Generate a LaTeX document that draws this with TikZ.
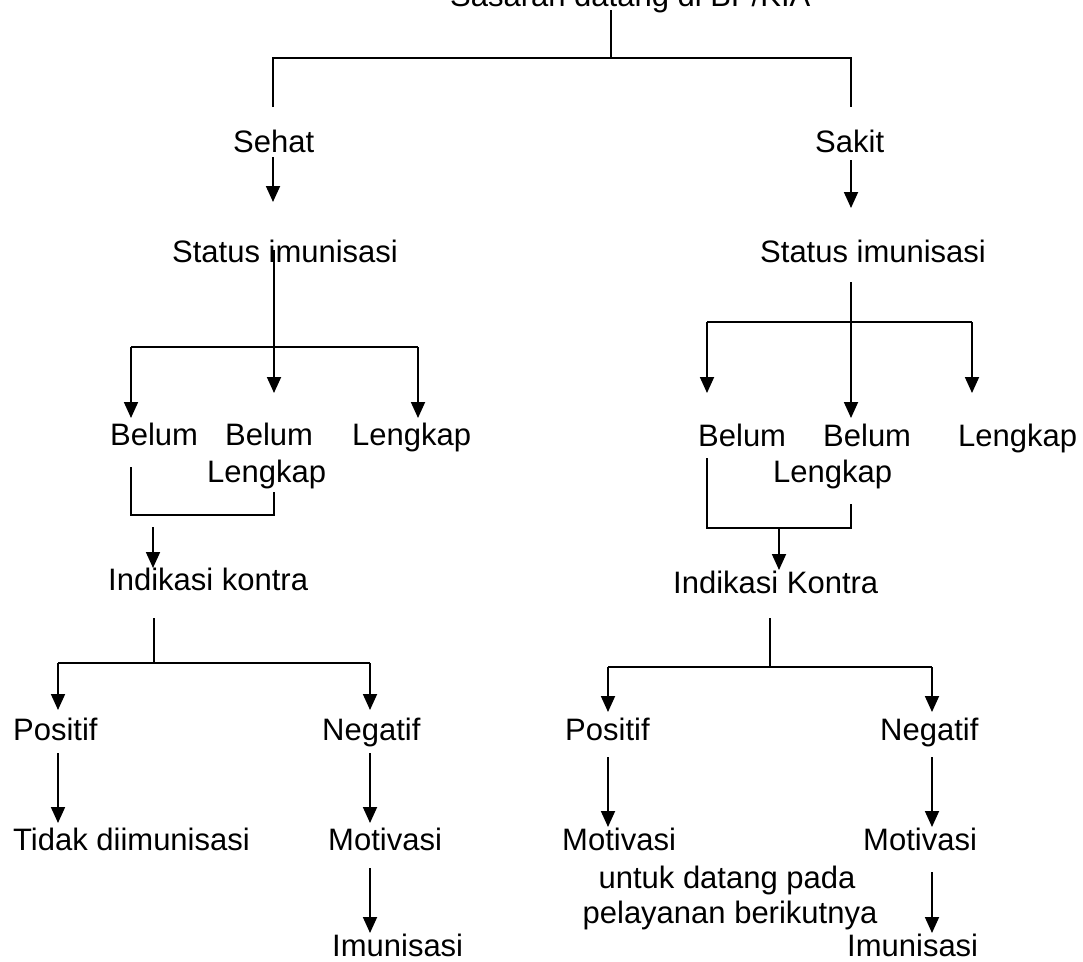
\documentclass[tikz,border=0pt]{standalone}
\usepackage{fontspec}
\setmainfont{Liberation Sans}
\usetikzlibrary{arrows.meta}
\begin{document}
\begin{tikzpicture}[x=1pt,y=-1pt,
  lbl/.style={anchor=base west, inner sep=0pt, font=\fontsize{31}{37}\selectfont},
  clbl/.style={anchor=base, inner sep=0pt, font=\fontsize{31}{37}\selectfont},
  ln/.style={line width=1.8pt},
  arr/.style={ln, -{Triangle[length=16pt,width=14pt]}}]
\useasboundingbox (0,0) rectangle (1083,961);
\begin{scope}
\clip (0,0) rectangle (1083,961);
% ---------- texts ----------
\node[lbl] (top) at (450,6) {Sasaran datang di BP/KIA};
\node[lbl] (sehat) at (233,152) {Sehat};
\node[lbl] (sakit) at (815,152) {Sakit};
\node[lbl] (statL) at (172,262) {Status imunisasi};
\node[lbl] (statR) at (760,262) {Status imunisasi};
% left branch
\node[lbl] (belL) at (110,445) {Belum};
\node[lbl] (blL1) at (225,445) {Belum};
\node[lbl] (blL2) at (207,482) {Lengkap};
\node[lbl] (lkL) at (352,445) {Lengkap};
\node[lbl] (ikL) at (108,590) {Indikasi kontra};
\node[lbl] (posL) at (13,740) {Positif};
\node[lbl] (negL) at (322,740) {Negatif};
\node[lbl] (tidak) at (13,850) {Tidak diimunisasi};
\node[lbl] (motL) at (328,850) {Motivasi};
\node[lbl] (imL) at (332,956) {Imunisasi};
% right branch
\node[lbl] (belR) at (698,446) {Belum};
\node[lbl] (blR1) at (823,446) {Belum};
\node[lbl] (blR2) at (773,482) {Lengkap};
\node[lbl] (lkR) at (958,446) {Lengkap};
\node[lbl] (ikR) at (673,593) {Indikasi Kontra};
\node[lbl] (posR) at (565,740) {Positif};
\node[lbl] (negR) at (880,740) {Negatif};
\node[lbl] (motR1) at (562,850) {Motivasi};
\node[clbl] (untuk1) at (727,888) {untuk datang pada};
\node[clbl] (untuk2) at (730,923) {pelayanan berikutnya};
\node[lbl] (motR2) at (863,850) {Motivasi};
\node[lbl] (imR) at (847,956) {Imunisasi};
% ---------- coordinates ----------
\coordinate (t0) at (611,10);  \coordinate (t1) at (611,58);
\coordinate (tL) at (273,58);  \coordinate (tR) at (851,58);
\coordinate (tLe) at (273,107); \coordinate (tRe) at (851,107);
\coordinate (sh0) at (273,157); \coordinate (sh1) at (273,202);
\coordinate (sk0) at (851,160); \coordinate (sk1) at (851,208);
% left status
\coordinate (sL0) at (274,250); \coordinate (sL1) at (274,393);
\coordinate (hL1) at (131,347); \coordinate (hL2) at (418,347);
\coordinate (aL1) at (131,418); \coordinate (aL2) at (418,418);
\coordinate (bL1) at (131,467); \coordinate (bL2) at (131,515);
\coordinate (bL3) at (274,515); \coordinate (bL4) at (274,492);
\coordinate (kL0) at (153,527); \coordinate (kL1) at (153,568);
\coordinate (iL0) at (154,618); \coordinate (iL1) at (154,663);
\coordinate (pL1) at (58,663);  \coordinate (pL2) at (370,663);
\coordinate (pL1e) at (58,710); \coordinate (pL2e) at (370,710);
\coordinate (qL0) at (58,753);  \coordinate (qL1) at (58,823);
\coordinate (rL0) at (370,753); \coordinate (rL1) at (370,823);
\coordinate (mL0) at (370,868); \coordinate (mL1) at (370,933);
% right status
\coordinate (sR0) at (851,282); \coordinate (sR1) at (851,418);
\coordinate (hR1) at (707,322); \coordinate (hR2) at (972,322);
\coordinate (aR1) at (707,393); \coordinate (aR2) at (972,393);
\coordinate (bR1) at (707,458); \coordinate (bR2) at (707,528);
\coordinate (bR3) at (851,528); \coordinate (bR4) at (851,504);
\coordinate (kR0) at (779,528); \coordinate (kR1) at (779,570);
\coordinate (iR0) at (770,618); \coordinate (iR1) at (770,667);
\coordinate (pR1) at (608,667); \coordinate (pR2) at (932,667);
\coordinate (pR1e) at (608,712); \coordinate (pR2e) at (932,712);
\coordinate (qR0) at (608,757); \coordinate (qR1) at (608,827);
\coordinate (rR0) at (932,757); \coordinate (rR1) at (932,827);
\coordinate (mR0) at (932,872); \coordinate (mR1) at (932,933);
% ---------- connectors ----------
\draw[ln] (t0) -- (t1);
\draw[ln] (tLe) -- (tL) -- (tR) -- (tRe);
\draw[arr] (sh0) -- (sh1);
\draw[arr] (sk0) -- (sk1);
% left
\draw[arr] (sL0) -- (sL1);
\draw[ln] (hL1) -- (hL2);
\draw[arr] (hL1) -- (aL1);
\draw[arr] (hL2) -- (aL2);
\draw[ln] (bL1) -- (bL2) -- (bL3) -- (bL4);
\draw[arr] (kL0) -- (kL1);
\draw[ln] (iL0) -- (iL1);
\draw[ln] (pL1) -- (pL2);
\draw[arr] (pL1) -- (pL1e);
\draw[arr] (pL2) -- (pL2e);
\draw[arr] (qL0) -- (qL1);
\draw[arr] (rL0) -- (rL1);
\draw[arr] (mL0) -- (mL1);
% right
\draw[arr] (sR0) -- (sR1);
\draw[ln] (hR1) -- (hR2);
\draw[arr] (hR1) -- (aR1);
\draw[arr] (hR2) -- (aR2);
\draw[ln] (bR1) -- (bR2) -- (bR3) -- (bR4);
\draw[arr] (kR0) -- (kR1);
\draw[ln] (iR0) -- (iR1);
\draw[ln] (pR1) -- (pR2);
\draw[arr] (pR1) -- (pR1e);
\draw[arr] (pR2) -- (pR2e);
\draw[arr] (qR0) -- (qR1);
\draw[arr] (rR0) -- (rR1);
\draw[arr] (mR0) -- (mR1);
\end{scope}
\end{tikzpicture}
\end{document}
